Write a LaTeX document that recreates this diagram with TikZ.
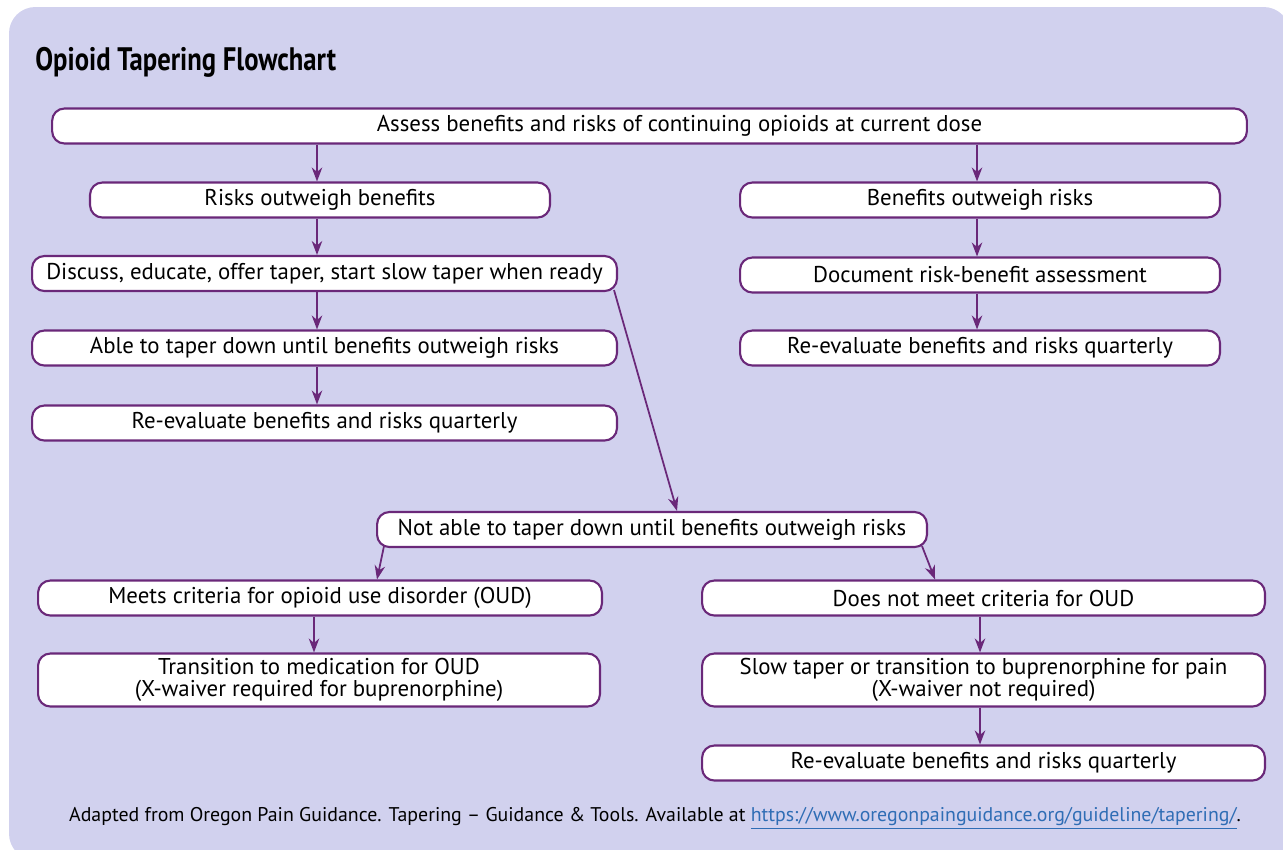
\documentclass[tikz,border=0pt]{standalone}
\usepackage{fontspec}
\setmainfont{PT Sans}
\newfontfamily\titlefont[FakeStretch=0.82]{PT Sans}
\usetikzlibrary{arrows.meta}
\definecolor{panel}{HTML}{D1D1EE}
\definecolor{plum}{HTML}{6A2879}
\definecolor{linkblue}{HTML}{2F6DB5}
\tikzstyle{box} = [draw=plum, line width=1.2pt, fill=white, rounded corners=7pt, minimum height=0.7cm, inner sep=1pt, align=center, font=\fontsize{13}{12.5}\selectfont]
\tikzstyle{line} = [draw=plum, line width=1pt, -{Stealth[length=2.8mm, width=2.1mm]}]
\newcommand{\link}{\textcolor{linkblue}{\underline{https://www.oregonpainguidance.org/guideline/tapering/}}}

\begin{document}
\begin{tikzpicture}[x=0.02cm, y=-0.02cm]
        \useasboundingbox (0,0) rectangle (1283,849);
        \fill[panel, rounded corners=15pt] (9,7) rectangle (1290,860);

        \node[anchor=west, inner sep=0pt, font=\titlefont\bfseries\fontsize{18.5}{20}\selectfont] (title) at (35,62) {Opioid Tapering Flowchart};

        \node[box, minimum width=23.9cm] (assess) at (649.5,126) {\hspace*{1.2cm}Assess benefits and risks of continuing opioids at current dose};

        \node[box, minimum width=9.2cm] (risks) at (320,200) {Risks outweigh benefits};
        \node[box, minimum width=11.7cm] (discuss) at (324.5,273.5) {Discuss, educate, offer taper, start slow taper when ready};
        \node[box, minimum width=11.7cm] (able) at (324.5,348) {Able to taper down until benefits outweigh risks};
        \node[box, minimum width=11.7cm] (reevalL) at (324.5,423) {Re-evaluate benefits and risks quarterly};

        \node[box, minimum width=9.6cm] (benefits) at (980,200) {Benefits outweigh risks};
        \node[box, minimum width=9.6cm] (document) at (980,275) {Document risk-benefit assessment};
        \node[box, minimum width=9.6cm] (reevalR) at (980,348) {Re-evaluate benefits and risks quarterly};

        \node[box, minimum width=11cm] (notable) at (652,529.5) {Not able to taper down until benefits outweigh risks};

        \node[box, minimum width=11.28cm] (oud) at (320,598) {Meets criteria for opioid use disorder (OUD)};
        \node[box, minimum width=11.24cm, minimum height=1.06cm] (mat) at (319,680) {Transition to medication for OUD\\(X-waiver required for buprenorphine)};

        \node[box, minimum width=11.26cm] (nooud) at (983.5,598) {Does not meet criteria for OUD};
        \node[box, minimum width=11.26cm, minimum height=1.06cm] (slow) at (983.5,680) {Slow taper or transition to buprenorphine for pain\\(X-waiver not required)};
        \node[box, minimum width=11.26cm] (reevalB) at (983.5,763) {Re-evaluate benefits and risks quarterly};

        \node[font=\fontsize{11.3}{13}\selectfont] (source) at (655,818) {Adapted from Oregon Pain Guidance. Tapering -- Guidance \& Tools. Available at \link.};

        \path[line] (assess.south -| risks.north) ++(-3,0) coordinate (a1) -- (a1 |- risks.north);
        \path[line] (assess.south -| benefits.north) ++(-3,0) coordinate (a2) -- (a2 |- benefits.north);
        \path[line] (risks.south) ++(-3,0) coordinate (a3) -- (a3 |- discuss.north);
        \path[line] (discuss.south) ++(-7.5,0) coordinate (a4) -- (a4 |- able.north);
        \path[line] (able.south) ++(-7.5,0) coordinate (a5) -- (a5 |- reevalL.north);
        \path[line] (benefits.south) ++(-3,0) coordinate (a6) -- (a6 |- document.north);
        \path[line] (document.south) ++(-3,0) coordinate (a7) -- (a7 |- reevalR.north);
        \path[line] (discuss.south east) ++(-4,-2) -- ([xshift=0.5cm]notable.north);
        \path[line] (notable.south west) ++(8,-2) -- ([xshift=1.14cm]oud.north);
        \path[line] (notable.south east) ++(-6,-2) -- ([xshift=-0.97cm]nooud.north);
        \path[line] (oud.south) ++(-6,0) coordinate (a8) -- (a8 |- mat.north);
        \path[line] (nooud.south) ++(-3.5,0) coordinate (a9) -- (a9 |- slow.north);
        \path[line] (slow.south) ++(-3.5,0) coordinate (a10) -- (a10 |- reevalB.north);
    \end{tikzpicture}
\end{document}
